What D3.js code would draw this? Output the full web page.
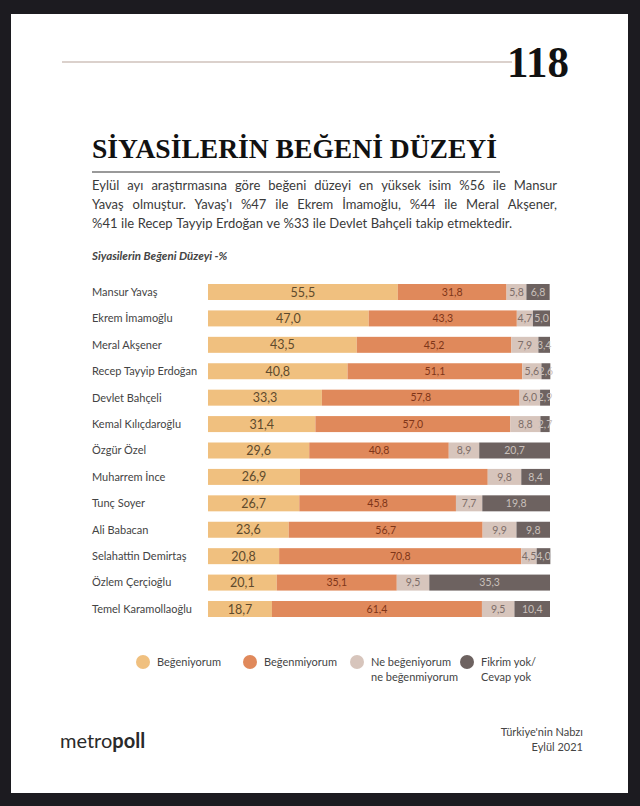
<!DOCTYPE html>
<html>
<head>
<meta charset="utf-8">
<script src="https://cdn.jsdelivr.net/npm/d3@7"></script>
<style>
  html, body { margin: 0; padding: 0; background: #1c1b20; }
  svg { display: block; }
</style>
</head>
<body>
<svg id="chart" width="640" height="806"></svg>
<script>
// data
const names = ["Mansur Yavaş", "Ekrem İmamoğlu", "Meral Akşener", "Recep Tayyip Erdoğan",
  "Devlet Bahçeli", "Kemal Kılıçdaroğlu", "Özgür Özel", "Muharrem İnce", "Tunç Soyer",
  "Ali Babacan", "Selahattin Demirtaş", "Özlem Çerçioğlu", "Temel Karamollaoğlu"];
const begeniyorum   = [55.5, 47.0, 43.5, 40.8, 33.3, 31.4, 29.6, 26.9, 26.7, 23.6, 20.8, 20.1, 18.7];
const begenmiyorum  = [31.8, 43.3, 45.2, 51.1, 57.8, 57.0, 40.8, 54.9, 45.8, 56.7, 70.8, 35.1, 61.4];
const ne            = [5.8, 4.7, 7.9, 5.6, 6.0, 8.8, 8.9, 9.8, 7.7, 9.9, 4.5, 9.5, 9.5];
const fikrimYok     = [6.8, 5.0, 3.4, 2.6, 2.9, 2.7, 20.7, 8.4, 19.8, 9.8, 4.0, 35.3, 10.4];
// the reference leaves this one segment unlabelled
const hiddenLabels = [[7, 1]];
const seriesNames = ["Beğeniyorum", "Beğenmiyorum", "Ne beğeniyorum\nne beğenmiyorum", "Fikrim yok/\nCevap yok"];

const colors = ["#f0c07f", "#e0895b", "#d7c5bc", "#6d6260"];
const textColors = ["#5e4a2c", "#7e3518", "#7d6d68", "#c9c0bb"];

const paragraphLines = [
  "Eylül ayı araştırmasına göre beğeni düzeyi en yüksek isim %56 ile Mansur",
  "Yavaş olmuştur. Yavaş'ı %47 ile Ekrem İmamoğlu, %44 ile Meral Akşener,",
  "%41 ile Recep Tayyip Erdoğan ve %33 ile Devlet Bahçeli takip etmektedir."
];

const sans = "Lato, 'Open Sans', sans-serif";
const serif = "'Liberation Serif', 'DejaVu Serif', serif";

const svg = d3.select("#chart");

// page
svg.append("rect").attr("x", 11).attr("y", 14).attr("width", 617).attr("height", 779).attr("fill", "#ffffff");

// header
svg.append("line").attr("x1", 62).attr("x2", 512).attr("y1", 62).attr("y2", 62)
  .attr("stroke", "#b8a49a").attr("stroke-width", 1.2);
svg.append("text").attr("x", 507).attr("y", 77).text("118")
  .attr("font-family", serif).attr("font-weight", "bold").attr("font-size", 44)
  .attr("textLength", 62).attr("lengthAdjust", "spacingAndGlyphs").attr("fill", "#111");

svg.append("text").attr("x", 92).attr("y", 158).text("SİYASİLERİN BEĞENİ DÜZEYİ")
  .attr("font-family", serif).attr("font-weight", "bold").attr("font-size", 27)
  .attr("textLength", 405).attr("lengthAdjust", "spacingAndGlyphs").attr("fill", "#111");
svg.append("line").attr("x1", 92).attr("x2", 500).attr("y1", 172).attr("y2", 172)
  .attr("stroke", "#777").attr("stroke-width", 1.4);

// justified paragraph
const paraLeft = 92, paraRight = 557, paraSize = 13;
(function () {
  const probe = svg.append("text").attr("font-family", sans).attr("font-size", paraSize);
  const w = s => { probe.text(s); return probe.node().getComputedTextLength(); };
  paragraphLines.forEach((line, i) => {
    const words = line.split(" ");
    const yy = 190 + i * 19;
    const widths = words.map(w);
    const total = d3.sum(widths);
    const last = i === paragraphLines.length - 1;
    const gap = last ? 3.6 : (paraRight - paraLeft - total) / (words.length - 1);
    let xx = paraLeft;
    words.forEach((word, j) => {
      svg.append("text").attr("x", xx).attr("y", yy).text(word)
        .attr("font-family", sans).attr("font-size", paraSize).attr("fill", "#3a3a3a");
      xx += widths[j] + gap;
    });
  });
  probe.remove();
})();

svg.append("text").attr("x", 92).attr("y", 260).text("Siyasilerin Beğeni Düzeyi -%")
  .attr("font-family", sans).attr("font-size", 11.5).attr("font-style", "italic")
  .attr("font-weight", "bold").attr("fill", "#444");

// chart
const x = d3.scaleLinear().domain([0, 100]).range([208, 550]);
const y = d3.scalePoint().domain(names).range([292, 609]);
const barH = 16;

const rows = names.map((name, i) => {
  const vals = [begeniyorum[i], begenmiyorum[i], ne[i], fikrimYok[i]];
  let acc = 0;
  return { name, segs: vals.map((v, k) => { const s = { k, i, v, x0: acc, x1: acc + v }; acc += v; return s; }) };
});

svg.append("g").selectAll("text").data(names).join("text")
  .attr("x", 92).attr("y", d => y(d)).attr("dy", "0.35em").text(d => d)
  .attr("font-family", sans).attr("font-size", 11).attr("fill", "#444");

const rowG = svg.append("g").selectAll("g").data(rows).join("g");
rowG.selectAll("rect").data(d => d.segs).join("rect")
  .attr("x", d => x(d.x0)).attr("width", d => x(d.x1) - x(d.x0))
  .attr("y", d => y(names[d.i]) - barH / 2).attr("height", barH)
  .attr("fill", d => colors[d.k]);
rowG.selectAll("text").data(d => d.segs.filter(s => !hiddenLabels.some(h => h[0] === s.i && h[1] === s.k)))
  .join("text")
  .attr("x", d => (x(d.x0) + x(d.x1)) / 2).attr("y", d => y(names[d.i]))
  .attr("dy", "0.36em").attr("text-anchor", "middle")
  .text(d => d3.format(".1f")(d.v).replace(".", ","))
  .attr("font-family", sans).attr("font-size", d => d.k === 0 ? 12.5 : 10.5)
  .attr("fill", d => textColors[d.k]);

// legend
const legendX = [143, 250, 357, 467];
const lg = svg.append("g").selectAll("g").data(seriesNames).join("g")
  .attr("transform", (d, k) => `translate(${legendX[k]},662)`);
lg.append("circle").attr("r", 7).attr("fill", (d, k) => colors[k]);
lg.append("text").attr("x", 14).attr("font-family", sans).attr("font-size", 11).attr("fill", "#444")
  .selectAll("tspan").data(d => d.split("\n")).join("tspan")
  .attr("x", 14).attr("dy", (d, j) => j === 0 ? "0.35em" : "1.35em").text(d => d);

// footer
const logo = svg.append("text").attr("x", 60).attr("y", 748)
  .attr("font-family", sans).attr("font-size", 20).attr("fill", "#2a2a2a");
logo.append("tspan").text("metro");
logo.append("tspan").attr("font-weight", "bold").text("poll");

svg.append("text").attr("x", 583).attr("y", 736).attr("text-anchor", "end").text("Türkiye'nin Nabzı")
  .attr("font-family", sans).attr("font-size", 11).attr("fill", "#444");
svg.append("text").attr("x", 583).attr("y", 751).attr("text-anchor", "end").text("Eylül 2021")
  .attr("font-family", sans).attr("font-size", 11).attr("fill", "#444");
</script>
</body>
</html>
